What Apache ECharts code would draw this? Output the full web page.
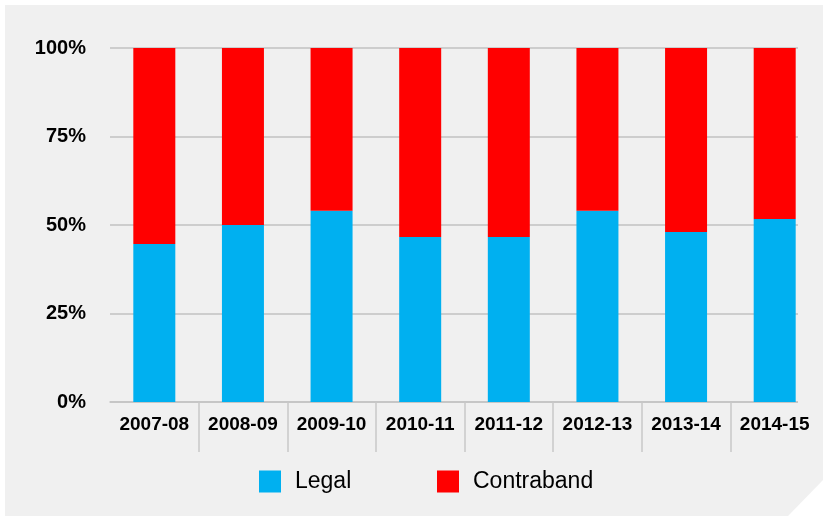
<!DOCTYPE html>
<html>
<head>
<meta charset="utf-8">
<script src="https://cdn.jsdelivr.net/npm/echarts@6/dist/echarts.min.js"></script>
<style>
html,body{margin:0;padding:0;background:#fff;}
#chart{width:823px;height:516px;}
</style>
</head>
<body>
<div id="chart"></div>
<script>
const categories = ['2007-08','2008-09','2009-10','2010-11','2011-12','2012-13','2013-14','2014-15'];
const legalShare = [44.6, 50.0, 54.0, 46.6, 46.6, 54.0, 48.0, 51.7];
const contrabandShare = [55.4, 50.0, 46.0, 53.4, 53.4, 46.0, 52.0, 48.3];
const yTicks = [0, 25, 50, 75, 100];

const chart = echarts.init(document.getElementById('chart'), null, {renderer: 'canvas'});
const labelFont = '"Liberation Sans", Arial, sans-serif';
const option = {
  backgroundColor: '#ffffff',
  animation: false,
  graphic: [{
    type: 'polygon',
    z: -10,
    silent: true,
    shape: {points: [[5,5],[823,5],[823,480],[788,516],[5,516]]},
    style: {fill: '#f0f0f0'}
  }, {
    type: 'rect',
    z: 1,
    silent: true,
    shape: {x: 798, y: 40, width: 25, height: 364},
    style: {fill: '#f0f0f0'}
  }, {
    type: 'rect',
    z: 1,
    silent: true,
    shape: {x: 816, y: 400, width: 7, height: 60},
    style: {fill: '#f0f0f0'}
  }],
  grid: {left: 110, right: 4, top: 48, bottom: 114},
  legend: [{
    data: ['Legal'],
    left: 254, top: 465,
    itemWidth: 22, itemHeight: 22,
    icon: 'rect',
    textStyle: {fontFamily: labelFont, fontSize: 23, color: '#000', padding: [0,0,0,9]}
  }, {
    data: ['Contraband'],
    left: 432, top: 465,
    itemWidth: 22, itemHeight: 22,
    icon: 'rect',
    textStyle: {fontFamily: labelFont, fontSize: 23, color: '#000', padding: [0,0,0,9]}
  }],
  xAxis: {
    type: 'category',
    data: categories,
    boundaryGap: true,
    axisLine: {show: true, lineStyle: {color: '#c4c4c4', width: 1.5}},
    axisTick: {show: true, length: 50, lineStyle: {color: '#c8c8c8', width: 1.5},
      interval: function (i) { return i !== 0; }},
    axisLabel: {interval: 0, fontFamily: labelFont, fontWeight: 'bold', fontSize: 19, color: '#000', margin: 13}
  },
  yAxis: {
    type: 'value',
    min: yTicks[0], max: yTicks[yTicks.length - 1], interval: 25,
    axisLine: {show: false},
    axisTick: {show: false},
    splitLine: {lineStyle: {color: '#cdcdcd', width: 2}},
    axisLabel: {formatter: '{value}%', fontFamily: labelFont, fontWeight: 'bold', fontSize: 20, color: '#000', margin: 24}
  },
  series: [{
    name: 'Legal', type: 'bar', stack: 'total', barWidth: 42,
    itemStyle: {color: '#00b0f0'},
    data: legalShare
  }, {
    name: 'Contraband', type: 'bar', stack: 'total', barWidth: 42,
    itemStyle: {color: '#ff0000'},
    data: contrabandShare
  }]
};
chart.setOption(option);
</script>
</body>
</html>
